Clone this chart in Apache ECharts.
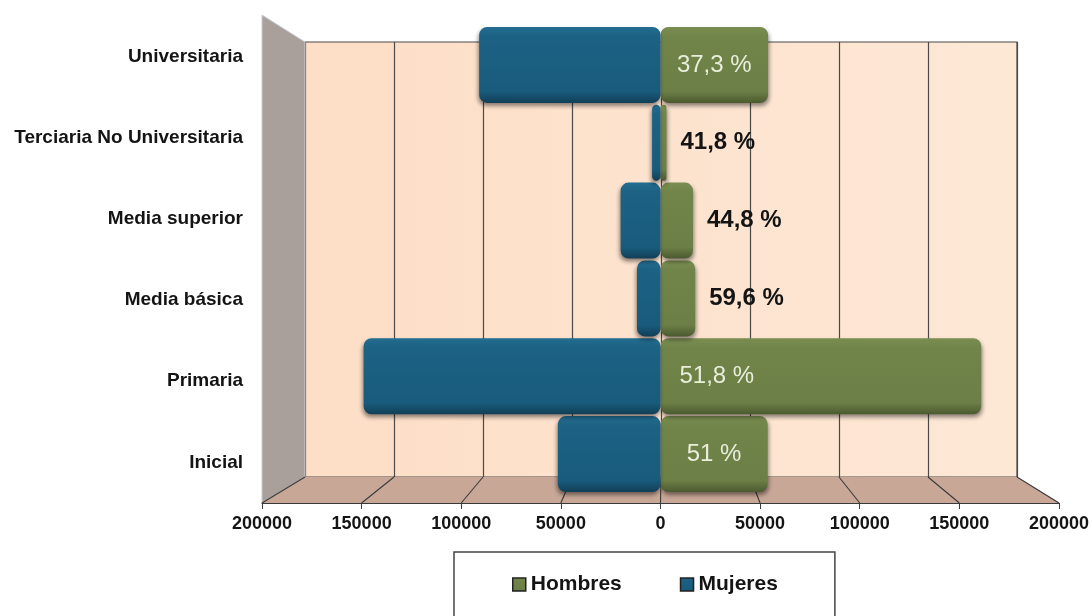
<!DOCTYPE html>
<html>
<head>
<meta charset="utf-8">
<script src="https://cdn.jsdelivr.net/npm/echarts@6/dist/echarts.min.js"></script>
<style>
html,body{margin:0;padding:0;background:#fff;}
#chart{width:1092px;height:616px;}
</style>
</head>
<body>
<div id="chart"></div>
<script>
// ---- data (bottom to top) ----
const categories = ['Inicial', 'Primaria', 'Media básica', 'Media superior', 'Terciaria No Universitaria', 'Universitaria'];
const mujeres = [51500, 149000, 11800, 20000, 4200, 91000];
const hombres = [53800, 161000, 17400, 16300, 3000, 54000];
const hombresPct = ['51 %', '51,8 %', '59,6 %', '44,8 %', '41,8 %', '37,3 %'];
const axisMin = -200000, axisMax = 200000, axisStep = 50000;

// ---- layout (3D frame) ----
const FRONT = { left: 262, right: 1060, y: 503 };
const BACK = { left: 305, right: 1017, top: 42, bottom: 477 };
const FONT = 'Liberation Sans, Arial, sans-serif';

const chart = echarts.init(document.getElementById('chart'));

function labelFor(v, txt) {
  if (v > 100000) return { show: true, position: 'insideLeft', distance: 19, formatter: txt, color: '#e9eedb', fontSize: 24, fontFamily: FONT };
  if (v > 40000) return { show: true, position: 'inside', formatter: txt, color: '#e9eedb', fontSize: 24, fontFamily: FONT };
  return { show: true, position: 'right', distance: 14, formatter: txt, color: '#141414', fontSize: 24, fontWeight: 'bold', fontFamily: FONT };
}

const blueFill = new echarts.graphic.LinearGradient(0, 0, 0, 1, [
  { offset: 0, color: '#236d90' }, { offset: 0.12, color: '#1c6284' },
  { offset: 0.85, color: '#195b7c' }, { offset: 1, color: '#113f57' }]);
const greenFill = new echarts.graphic.LinearGradient(0, 0, 0, 1, [
  { offset: 0, color: '#7b8e52' }, { offset: 0.12, color: '#718449' },
  { offset: 0.85, color: '#6c7f46' }, { offset: 1, color: '#4b5a2f' }]);

const option = {
  animation: false,
  textStyle: { fontFamily: FONT },
  grid: [
    { left: FRONT.left, width: FRONT.right - FRONT.left, top: 26, height: 467 },
    { left: BACK.left, width: BACK.right - BACK.left, top: BACK.top, height: BACK.bottom - BACK.top,
      show: true, borderColor: '#4a4a4a', borderWidth: 1.2, z: 0,
      backgroundColor: new echarts.graphic.LinearGradient(0, 0, 1, 0, [
        { offset: 0, color: '#fddec6' }, { offset: 1, color: '#fde8d6' }]) },
    { left: FRONT.left, width: FRONT.right - FRONT.left, top: 16, height: 487 }
  ],
  xAxis: [
    { type: 'value', gridIndex: 0, min: axisMin, max: axisMax, interval: axisStep, offset: 10,
      axisLine: { show: true, lineStyle: { color: '#3a3a3a', width: 1.2 } },
      axisTick: { show: true, length: 6, lineStyle: { color: '#3a3a3a' } },
      axisLabel: { margin: 12, formatter: v => String(Math.abs(v)), color: '#141414', fontSize: 18, fontWeight: 'bold', fontFamily: FONT },
      splitLine: { show: false } },
    { type: 'value', gridIndex: 1, min: axisMin, max: axisMax, interval: axisStep,
      axisLine: { show: false }, axisTick: { show: false }, axisLabel: { show: false },
      splitLine: { show: true, lineStyle: { color: '#4a4a4a', width: 1.2 } } },
    { type: 'value', gridIndex: 2, show: false, min: axisMin, max: axisMax }
  ],
  yAxis: [
    { type: 'category', gridIndex: 0, data: categories, show: false },
    { type: 'value', gridIndex: 1, show: false, min: 0, max: 1, splitLine: { show: false } },
    { type: 'category', gridIndex: 2, data: categories,
      axisLine: { show: false }, axisTick: { show: false },
      axisLabel: { margin: 19, color: '#141414', fontSize: 19, fontWeight: 'bold', fontFamily: FONT } }
  ],
  legend: {
    data: ['Hombres', 'Mujeres'],
    left: 454, top: 552,
    padding: [22, 57, 60, 58],
    itemGap: 58, itemWidth: 13, itemHeight: 13,
    borderColor: '#444', borderWidth: 1.5, backgroundColor: '#fff',
    icon: 'rect',
    itemStyle: { borderColor: '#222', borderWidth: 1.5 },
    textStyle: { fontSize: 21, fontWeight: 'bold', color: '#141414', fontFamily: FONT }
  },
  series: [
    { name: 'Hombres', type: 'bar', xAxisIndex: 0, yAxisIndex: 0, barWidth: 76, barGap: '-100%', z: 3,
      itemStyle: { color: greenFill, borderRadius: 8, shadowColor: 'rgba(0,0,0,0.45)', shadowBlur: 4, shadowOffsetY: 3, shadowOffsetX: 1 },
      data: hombres.map((v, i) => ({ value: v, label: labelFor(v, hombresPct[i]) })) },
    { name: 'Mujeres', type: 'bar', xAxisIndex: 0, yAxisIndex: 0, barWidth: 76, barGap: '-100%', z: 3,
      itemStyle: { color: blueFill, borderRadius: 8, shadowColor: 'rgba(0,0,0,0.45)', shadowBlur: 4, shadowOffsetY: 3, shadowOffsetX: -1 },
      data: mujeres.map(v => -v) }
  ]
};
// legend icon colours
option.series[0].color = '#5d7033';
option.series[1].color = '#1d6a91';

chart.setOption(option);

// ---- 3D frame: side wall, floor and floor lines, placed from the axes ----
const ticks = [];
for (let v = axisMin; v <= axisMax; v += axisStep) ticks.push(v);
const floorLines = ticks.map(v => {
  const xb = chart.convertToPixel({ xAxisIndex: 1 }, v);
  const xf = chart.convertToPixel({ xAxisIndex: 0 }, v);
  return { type: 'line', z: 1, shape: { x1: xb, y1: BACK.bottom, x2: xf, y2: FRONT.y },
    style: { stroke: '#3a3a3a', lineWidth: 1.1 } };
});
chart.setOption({
  graphic: [
    { type: 'polygon', z: 0, shape: { points: [[FRONT.left, 15], [BACK.left, BACK.top], [BACK.left, BACK.bottom], [FRONT.left, FRONT.y]] },
      style: { fill: '#a9a09c', stroke: '#c8ccd4', lineWidth: 1 } },
    { type: 'polygon', z: 0, shape: { points: [[BACK.left, BACK.bottom], [BACK.right, BACK.bottom], [FRONT.right, FRONT.y], [FRONT.left, FRONT.y]] },
      style: { fill: '#c9a797' } }
  ].concat(floorLines)
});
</script>
</body>
</html>
